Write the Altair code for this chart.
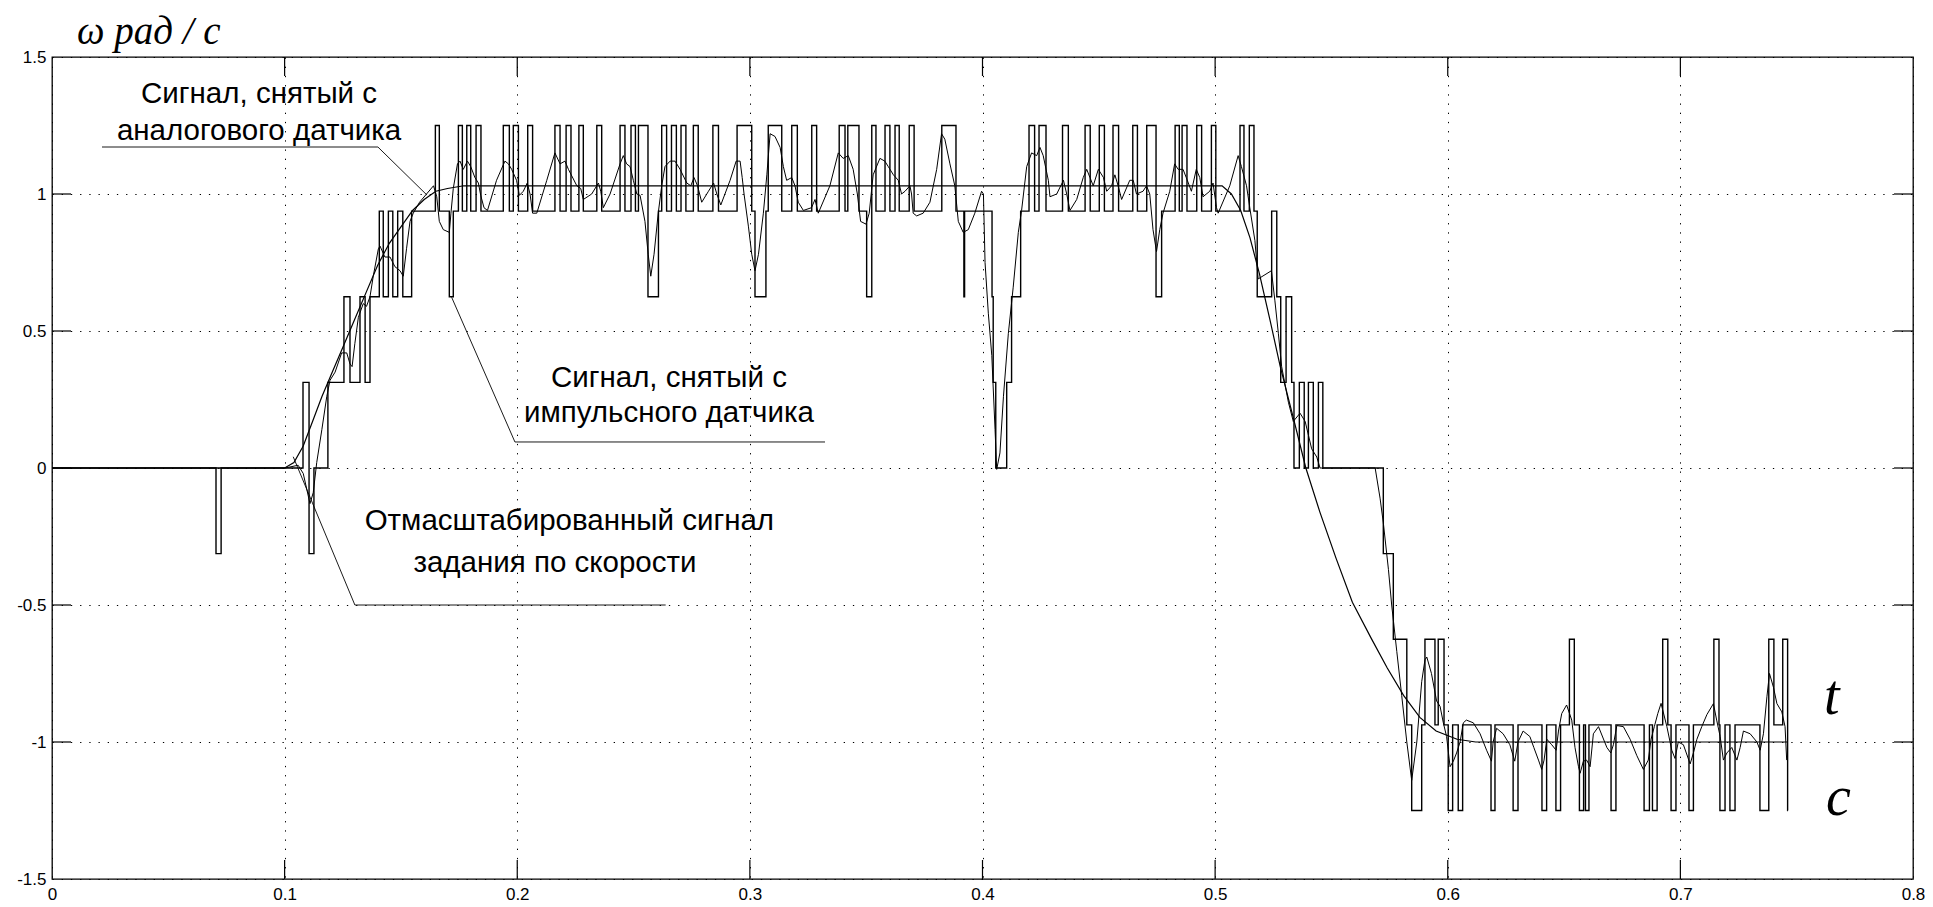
import altair as alt
import pandas as pd

W, H = 1861, 822

X_TICKS = [0, 0.1, 0.2, 0.3, 0.4, 0.5, 0.6, 0.7, 0.8]
Y_TICKS = [-1.5, -1, -0.5, 0, 0.5, 1, 1.5]
X_INNER = [0.1, 0.2, 0.3, 0.4, 0.5, 0.6, 0.7]
Y_INNER = [-1, -0.5, 0, 0.5, 1]

# scaled speed reference
REF_T = [0.0, 0.100, 0.104, 0.108, 0.112, 0.116, 0.120, 0.125, 0.130, 0.135, 0.140, 0.145,
         0.150, 0.155, 0.160, 0.165, 0.170, 0.177, 0.503, 0.507, 0.511, 0.515, 0.519, 0.5236,
         0.528, 0.534, 0.539, 0.545, 0.552, 0.559, 0.567, 0.574, 0.581, 0.588, 0.595, 0.604,
         0.612, 0.746]
REF_V = [0.0, 0.0, 0.02, 0.08, 0.17, 0.26, 0.34, 0.44, 0.54, 0.64, 0.74, 0.82,
         0.88, 0.94, 0.98, 1.01, 1.02, 1.03, 1.03, 1.00, 0.94, 0.84, 0.71, 0.54,
         0.37, 0.17, 0.0, -0.16, -0.33, -0.49, -0.62, -0.73, -0.83, -0.91, -0.96, -0.99,
         -1.0, -1.0]

# pulse sensor signal (step transitions)
PULSE_T = [0.0, 0.0705, 0.0727, 0.1079, 0.1105, 0.1126, 0.1186, 0.1255, 0.1281, 0.1324, 0.1346,
           0.1367, 0.1407, 0.1424, 0.1446, 0.1465, 0.1486, 0.1508, 0.1546, 0.1648, 0.1665,
           0.1708, 0.1725, 0.1747, 0.1764, 0.1783, 0.1800, 0.1823, 0.1844, 0.1940, 0.1966,
           0.1983, 0.2005, 0.2045, 0.2066, 0.2162, 0.2184, 0.2210, 0.2231, 0.2265, 0.2284,
           0.2342, 0.2363, 0.2442, 0.2463, 0.2489, 0.2508, 0.2521, 0.2562, 0.2607, 0.2621,
           0.2642, 0.2663, 0.2684, 0.2704, 0.2725, 0.2757, 0.2778, 0.2841, 0.2865, 0.2945,
           0.3008, 0.3022, 0.3069, 0.3079, 0.3137, 0.3180, 0.3204, 0.3266, 0.3287, 0.3384,
           0.3409, 0.3421, 0.3469, 0.3502, 0.3524, 0.3542, 0.3581, 0.3602, 0.3624, 0.3642,
           0.3685, 0.3706, 0.3825, 0.3886, 0.3920, 0.3923, 0.4041, 0.4046, 0.4057, 0.4104,
           0.4125, 0.4164, 0.4200, 0.4224, 0.4243, 0.4273, 0.4344, 0.4369, 0.4441, 0.4463,
           0.4502, 0.4524, 0.4561, 0.4585, 0.4646, 0.4666, 0.4706, 0.4746, 0.4770, 0.4828,
           0.4846, 0.4858, 0.4879, 0.4921, 0.4942, 0.4984, 0.5003, 0.5107, 0.5124, 0.5147,
           0.5167, 0.5181, 0.5243, 0.5265, 0.5282, 0.5305, 0.5329, 0.5339, 0.5362, 0.5383,
           0.5401, 0.5422, 0.5444, 0.5463, 0.5723, 0.5766, 0.5824, 0.5845, 0.5888, 0.5902,
           0.5945, 0.5959, 0.5984, 0.6002, 0.6021, 0.6045, 0.6064, 0.6186, 0.6203, 0.6281,
           0.6302, 0.6405, 0.6425, 0.6465, 0.6485, 0.6523, 0.6544, 0.6566, 0.6584, 0.6592,
           0.6607, 0.6702, 0.6723, 0.6844, 0.6867, 0.6880, 0.6900, 0.6924, 0.6946, 0.6960,
           0.6981, 0.7037, 0.7056, 0.7144, 0.7166, 0.7170, 0.7192, 0.7213, 0.7235, 0.7342,
           0.7380, 0.7402, 0.7440, 0.7461, 0.7462]
PULSE_V = [0, -0.3125, 0, 0.3125, -0.3125, 0, 0.3125, 0.625, 0.3125, 0.625, 0.3125,
           0.625, 0.9375, 0.625, 0.9375, 0.625, 0.9375, 0.625, 0.9375, 1.25, 0.9375,
           0.625, 0.9375, 1.25, 0.9375, 1.25, 0.9375, 1.25, 0.9375, 1.25, 0.9375,
           1.25, 0.9375, 1.25, 0.9375, 1.25, 0.9375, 1.25, 0.9375, 1.25, 0.9375,
           1.25, 0.9375, 1.25, 0.9375, 1.25, 0.9375, 1.25, 0.625, 0.9375, 1.25,
           0.9375, 1.25, 0.9375, 1.25, 0.9375, 1.25, 0.9375, 1.25, 0.9375, 1.25,
           0.9375, 0.625, 0.9375, 1.25, 0.9375, 1.25, 0.9375, 1.25, 0.9375, 1.25,
           0.9375, 1.25, 0.9375, 0.625, 1.25, 0.9375, 1.25, 0.9375, 1.25, 0.9375,
           1.25, 0.9375, 1.25, 0.9375, 0.625, 0.9375, 0.625, 0.3125, 0, 0.3125,
           0.625, 0.9375, 1.25, 0.9375, 1.25, 0.9375, 1.25, 0.9375, 1.25, 0.9375,
           1.25, 0.9375, 1.25, 0.9375, 1.25, 0.9375, 1.25, 0.625, 0.9375, 1.25,
           0.9375, 1.25, 0.9375, 1.25, 0.9375, 1.25, 0.9375, 1.25, 0.9375, 1.25,
           0.9375, 0.625, 0.9375, 0.625, 0.3125, 0.625, 0.3125, 0, 0.3125, 0,
           0.3125, 0, 0.3125, 0, -0.3125, -0.625, -0.9375, -1.25, -0.9375, -0.625,
           -0.9375, -0.625, -0.9375, -1.25, -0.9375, -1.25, -0.9375, -1.25, -0.9375, -1.25,
           -0.9375, -1.25, -0.9375, -1.25, -0.9375, -0.625, -0.9375, -1.25, -0.9375, -1.25,
           -0.9375, -1.25, -0.9375, -1.25, -0.9375, -1.25, -0.9375, -0.625, -0.9375, -1.25,
           -0.9375, -1.25, -0.9375, -0.625, -0.9375, -1.25, -0.9375, -1.25, -0.9375, -1.25,
           -0.625, -0.9375, -0.625, -1.25, -1.25]

# analog sensor signal
ANALOG_T = [0.0, 0.1002, 0.1058, 0.108, 0.1109, 0.1123, 0.1138, 0.116, 0.1181, 0.1195, 0.1217,
            0.1245, 0.1267, 0.1281, 0.1290, 0.1302, 0.1317, 0.1338, 0.1352, 0.1367, 0.1381,
            0.1403, 0.141, 0.1431, 0.1453, 0.1474, 0.1496, 0.151, 0.1524, 0.1539, 0.1553,
            0.158, 0.164, 0.1654, 0.1665, 0.1682, 0.1708, 0.1715, 0.1725, 0.1743, 0.1754,
            0.1768, 0.1786, 0.18, 0.1818, 0.1833, 0.1843, 0.1857, 0.1872, 0.1911, 0.1947,
            0.1962, 0.1976, 0.1997, 0.2009, 0.2026, 0.2043, 0.2055, 0.2066, 0.2084, 0.2127,
            0.2162, 0.2184, 0.2205, 0.222, 0.2256, 0.2273, 0.2284, 0.232, 0.2349, 0.2359,
            0.237, 0.2399, 0.2442, 0.2456, 0.247, 0.2485, 0.2499, 0.2514, 0.2528, 0.2549,
            0.2563, 0.2574, 0.2588, 0.2606, 0.2621, 0.2635, 0.2657, 0.2678, 0.27, 0.2729,
            0.2746, 0.276, 0.2775, 0.2793, 0.2822, 0.2844, 0.2858, 0.2875, 0.2915, 0.2941,
            0.2958, 0.2967, 0.2975, 0.2994, 0.3008, 0.3022, 0.3037, 0.3058, 0.3073, 0.3087,
            0.3108, 0.313, 0.3144, 0.3158, 0.318, 0.3194, 0.3208, 0.323, 0.3265, 0.328,
            0.3294, 0.3344, 0.338, 0.3401, 0.3423, 0.3444, 0.3462, 0.3476, 0.3499, 0.3513,
            0.353, 0.3559, 0.358, 0.3595, 0.3617, 0.3638, 0.3652, 0.3667, 0.3688, 0.3695,
            0.3702, 0.3717, 0.3745, 0.3774, 0.3803, 0.3824, 0.3838, 0.386, 0.3881, 0.3896,
            0.3917, 0.3939, 0.3967, 0.3996, 0.4004, 0.4011, 0.4025, 0.404, 0.4054, 0.4061,
            0.4075, 0.409, 0.4111, 0.4132, 0.4154, 0.4168, 0.419, 0.4211, 0.4233, 0.4247,
            0.4261, 0.4283, 0.429, 0.4319, 0.4348, 0.4362, 0.4376, 0.4405, 0.4433, 0.4448,
            0.4462, 0.4476, 0.4498, 0.452, 0.4534, 0.4555, 0.4569, 0.4583, 0.4598, 0.4633,
            0.4648, 0.4662, 0.469, 0.4705, 0.4719, 0.4733, 0.4748, 0.4762, 0.4776, 0.4805,
            0.4826, 0.4841, 0.4862, 0.4876, 0.4898, 0.4919, 0.4934, 0.4948, 0.4977, 0.4991,
            0.5006, 0.5013, 0.5063, 0.5099, 0.5113, 0.5135, 0.5149, 0.5171, 0.5185, 0.5242,
            0.5257, 0.5272, 0.5286, 0.5315, 0.5336, 0.5365, 0.5387, 0.5415, 0.5437, 0.5451,
            0.5688, 0.5709, 0.5723, 0.5745, 0.5759, 0.5781, 0.5802, 0.5824, 0.5845, 0.5867,
            0.5888, 0.5902, 0.591, 0.593, 0.5952, 0.5967, 0.5981, 0.5995, 0.601, 0.6024,
            0.6038, 0.6053, 0.6067, 0.608, 0.611, 0.6139, 0.6167, 0.6188, 0.6195, 0.621,
            0.6238, 0.6267, 0.6288, 0.6302, 0.6324, 0.6353, 0.637, 0.639, 0.6404, 0.6414,
            0.6426, 0.6447, 0.6466, 0.6476, 0.649, 0.6511, 0.6533, 0.6547, 0.6562, 0.6569,
            0.6583, 0.6597, 0.6612, 0.6626, 0.6648, 0.6684, 0.6701, 0.6712, 0.6727, 0.6755,
            0.6784, 0.6813, 0.6841, 0.6862, 0.6874, 0.6888, 0.6903, 0.6917, 0.6942, 0.6963,
            0.6977, 0.6991, 0.7013, 0.7042, 0.7056, 0.7071, 0.7092, 0.7114, 0.7142, 0.7156,
            0.7171, 0.7185, 0.72, 0.7221, 0.7243, 0.7257, 0.7271, 0.73, 0.7329, 0.7343,
            0.7357, 0.7372, 0.7383, 0.74, 0.7415, 0.7436, 0.745, 0.7457]
ANALOG_V = [0.0, 0.0, 0.01, -0.02, -0.13, -0.09, 0.02, 0.14, 0.26, 0.32, 0.35,
            0.42, 0.42, 0.38, 0.37, 0.455, 0.55, 0.60, 0.59, 0.625, 0.70,
            0.80, 0.81, 0.77, 0.77, 0.735, 0.72, 0.70, 0.80, 0.90, 0.93,
            0.97, 1.03, 0.99, 0.90, 0.87, 0.86, 0.93, 1.02, 1.11, 1.12,
            1.09, 1.12, 1.10, 1.06, 1.04, 0.995, 0.95, 0.94, 1.05, 1.12,
            1.11, 1.09, 1.05, 0.995, 1.01, 1.04, 1.0, 0.93, 0.93, 1.05,
            1.15, 1.11, 1.12, 1.09, 1.03, 1.02, 0.98, 1.0, 1.04, 1.01,
            0.95, 1.0, 1.11, 1.14, 1.11, 1.10, 1.05, 1.0, 0.995, 0.90,
            0.78, 0.70, 0.78, 0.93, 1.03, 1.10, 1.12, 1.12, 1.09, 1.04,
            1.03, 1.06, 1.03, 0.97, 1.01, 1.04, 1.0, 0.96, 1.05, 1.12,
            1.12, 1.06, 1.0, 0.88, 0.78, 0.72, 0.78, 0.93, 1.07, 1.22,
            1.21, 1.17, 1.10, 1.05, 1.06, 1.03, 0.97, 0.94, 0.95, 0.98,
            0.93, 1.03, 1.15, 1.13, 1.14, 1.09, 1.0, 0.90, 0.89, 0.93,
            1.07, 1.13, 1.12, 1.10, 1.07, 1.05, 1.0, 1.01, 1.03, 1.0,
            0.93, 0.92, 0.93, 0.97, 1.09, 1.22, 1.20, 1.11, 1.03, 0.90,
            0.86, 0.87, 0.93, 1.01, 1.0, 0.75, 0.565, 0.41, 0.14, -0.005,
            0.055, 0.26, 0.49, 0.66, 0.86, 0.94, 1.10, 1.15, 1.14, 1.17,
            1.14, 1.05, 0.99, 1.0, 1.05, 1.0, 0.94, 0.98, 1.06, 1.09,
            1.06, 1.03, 1.09, 1.06, 1.01, 1.03, 1.07, 1.03, 0.98, 1.05,
            1.05, 1.0, 1.01, 1.03, 1.0, 0.87, 0.79, 0.87, 0.93, 1.01,
            1.11, 1.09, 1.09, 1.06, 1.01, 1.09, 1.06, 0.99, 1.01, 1.04,
            0.95, 0.93, 1.03, 1.14, 1.10, 1.03, 0.95, 0.83, 0.69, 0.72,
            0.61, 0.49, 0.37, 0.24, 0.17, 0.20, 0.17, 0.07, 0.04, 0.0,
            0.0, -0.11, -0.2, -0.37, -0.50, -0.67, -0.83, -1.0, -1.14, -1.0,
            -0.78, -0.70, -0.69, -0.75, -0.85, -0.87, -0.93, -0.98, -1.09, -1.07,
            -1.04, -1.0, -0.93, -0.92, -0.93, -0.97, -1.03, -1.07, -1.0, -0.95,
            -0.97, -1.01, -1.07, -1.0, -0.96, -0.98, -1.02, -1.066, -1.10, -1.066,
            -0.99, -1.01, -1.03, -0.96, -0.896, -0.865, -0.92, -1.02, -1.09, -1.114,
            -1.07, -1.066, -1.09, -0.97, -0.944, -1.02, -1.04, -1.01, -0.94, -0.944,
            -0.99, -1.05, -1.10, -1.066, -0.99, -0.944, -0.896, -0.859, -0.944, -1.03,
            -1.06, -1.0, -1.01, -1.08, -1.04, -0.99, -0.944, -0.90, -0.86, -0.92,
            -0.98, -1.066, -1.04, -1.02, -1.066, -1.02, -0.96, -0.97, -1.0, -1.03,
            -0.97, -0.835, -0.75, -0.80, -0.86, -0.89, -0.944, -1.066]

# annotation texts and leader lines (data coordinates)
LABEL_TEXT = ["Сигнал, снятый с", "аналогового датчика",
              "Сигнал, снятый с", "импульсного датчика",
              "Отмасштабированный сигнал", "задания по скорости"]
LABEL_T = [0.0890, 0.0890, 0.2652, 0.2652, 0.2224, 0.2162]
LABEL_V = [1.332, 1.197, 0.296, 0.168, -0.226, -0.378]

LEADER_ID = ["a", "a", "a", "b", "b", "b", "c", "c", "c"]
LEADER_T = [0.0215, 0.1401, 0.1612, 0.1718, 0.1990, 0.3323, 0.1037, 0.1302, 0.2638]
LEADER_V = [1.1715, 1.1715, 0.996, 0.623, 0.095, 0.095, 0.041, -0.5, -0.5]

TICK_FONT = "Liberation Sans"
NOTE_FONT = "Liberation Sans"
SERIF = "Liberation Serif, Times New Roman, serif"


def xenc():
    return alt.X("t:Q", title=None,
                 scale=alt.Scale(domain=[0, 0.8], nice=False, zero=False),
                 axis=alt.Axis(values=X_TICKS, grid=True, gridColor="black", gridWidth=1,
                               gridDash=[1.3, 7.9], ticks=False, tickSize=0, domain=False,
                               labelFont=TICK_FONT, labelFontSize=17, labelColor="black",
                               labelPadding=7, labelFlush=False, labelOverlap=False,
                               labelExpr="toString(datum.value)"))


def yenc():
    return alt.Y("v:Q", title=None,
                 scale=alt.Scale(domain=[-1.5, 1.5], nice=False, zero=False),
                 axis=alt.Axis(values=Y_TICKS, grid=True, gridColor="black", gridWidth=1,
                               gridDash=[1.3, 7.9], ticks=False, tickSize=0, domain=False,
                               labelFont=TICK_FONT, labelFontSize=17, labelColor="black",
                               labelPadding=6, labelFlush=False, labelOverlap=False,
                               labelExpr="toString(datum.value)"))


def series(ts, vs):
    return pd.DataFrame({"t": ts, "v": vs, "i": list(range(len(ts)))})


pulse = alt.Chart(series(PULSE_T, PULSE_V)).mark_line(
    interpolate="step-after", color="black", strokeWidth=1.4
).encode(x=xenc(), y=yenc(), order="i:Q")

analog = alt.Chart(series(ANALOG_T, ANALOG_V)).mark_line(
    color="black", strokeWidth=1.0
).encode(x=xenc(), y=yenc(), order="i:Q")

ref = alt.Chart(series(REF_T, REF_V)).mark_line(
    color="black", strokeWidth=1.2
).encode(x=xenc(), y=yenc(), order="i:Q")

leaders = alt.Chart(pd.DataFrame({"id": LEADER_ID, "t": LEADER_T, "v": LEADER_V,
                                  "i": list(range(len(LEADER_T)))})).mark_line(
    color="black", strokeWidth=0.9
).encode(x=xenc(), y=yenc(), detail="id:N", order="i:Q")

notes = alt.Chart(pd.DataFrame({"t": LABEL_T, "v": LABEL_V, "txt": LABEL_TEXT})).mark_text(
    font=NOTE_FONT, fontSize=29.5, color="black", align="center", baseline="alphabetic"
).encode(x=xenc(), y=yenc(), text="txt:N")

xt = pd.DataFrame({"t": X_INNER})
yt = pd.DataFrame({"v": Y_INNER})
TL = 19
tick_b = alt.Chart(xt).mark_rule(color="black", strokeWidth=1.2).encode(
    x=xenc(), y=alt.value(H), y2=alt.value(H - TL))
tick_t = alt.Chart(xt).mark_rule(color="black", strokeWidth=1.2).encode(
    x=xenc(), y=alt.value(0), y2=alt.value(TL))
tick_l = alt.Chart(yt).mark_rule(color="black", strokeWidth=1.2).encode(
    y=yenc(), x=alt.value(0), x2=alt.value(TL))
tick_r = alt.Chart(yt).mark_rule(color="black", strokeWidth=1.2).encode(
    y=yenc(), x=alt.value(W - TL), x2=alt.value(W))

titles = pd.DataFrame({"txt": ["ω рад / с"]})
ytitle = alt.Chart(titles).mark_text(
    font=SERIF, fontStyle="italic", fontSize=39, color="black", align="left",
    baseline="alphabetic"
).encode(x=alt.value(25), y=alt.value(-13), text="txt:N")

tl = alt.Chart(pd.DataFrame({"txt": ["t"]})).mark_text(
    font=SERIF, fontStyle="italic", fontSize=56, color="black", align="left",
    baseline="alphabetic"
).encode(x=alt.value(1772), y=alt.value(657), text="txt:N")
cl = alt.Chart(pd.DataFrame({"txt": ["c"]})).mark_text(
    font=SERIF, fontStyle="italic", fontSize=56, color="black", align="left",
    baseline="alphabetic"
).encode(x=alt.value(1774), y=alt.value(758), text="txt:N")

chart = alt.layer(
    pulse, analog, ref, leaders, notes, tick_b, tick_t, tick_l, tick_r, ytitle, tl, cl
).properties(
    width=W, height=H,
    autosize=alt.AutoSizeParams(type="none"),
    padding={"left": 44, "top": 49, "right": 12, "bottom": 26},
    background="white",
).configure_view(
    stroke="black", strokeWidth=1.3
)

chart.save("out.html", embed_options={"renderer": "svg", "actions": False})
